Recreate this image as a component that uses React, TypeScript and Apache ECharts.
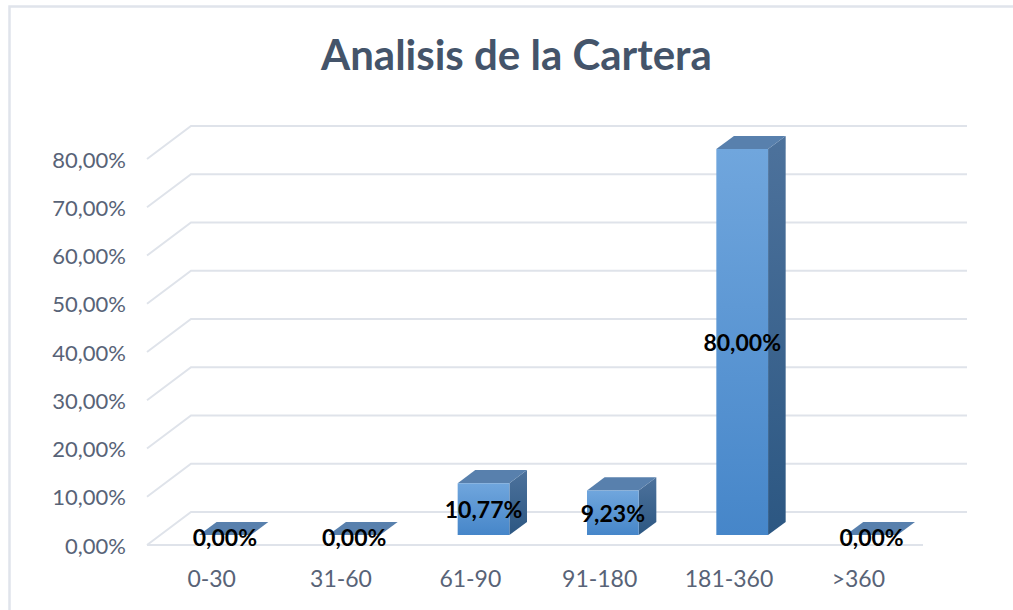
import React, { useEffect, useRef } from 'react';
import * as echarts from 'echarts';

const chartTitle = 'Analisis de la Cartera';
const categories = ['0-30', '31-60', '61-90', '91-180', '181-360', '>360'];
const values = [0, 0, 0.1077, 0.0923, 0.8, 0];
const yTicks = [0, 0.1, 0.2, 0.3, 0.4, 0.5, 0.6, 0.7, 0.8];

const FONT = 'Lato, "Open Sans", sans-serif';
const DEPTH_X = 44;
const DEPTH_Y = 33;
const BAR_FRONT = 0.3;
const BAR_BACK = 0.7;
const GRID_COLOR = '#dfe3ea';
const LABEL_COLOR = '#586377';

const fmt = (v: number) => (v * 100).toFixed(2).replace('.', ',') + '%';

export default function App() {
  const ref = useRef<HTMLDivElement>(null);
  useEffect(() => {
    if (!ref.current) return;
    const chart = echarts.init(ref.current, undefined, { renderer: 'svg' });
    const option: any = {
      animation: false,
      backgroundColor: '#ffffff',
      title: {
        text: chartTitle,
        left: 316,
        top: 28,
        textStyle: { fontFamily: FONT, fontSize: 42, fontWeight: 'bold', color: '#44546a' },
      },
      graphic: [
        {
          type: 'rect',
          shape: { x: 9.5, y: 6.5, width: 1100, height: 700 },
          style: { fill: 'none', stroke: '#e0e4eb', lineWidth: 2.5 },
          silent: true,
        },
      ],
      grid: { left: 147, top: 159, right: 90, bottom: 65, containLabel: false },
      xAxis: {
        type: 'category',
        data: categories,
        axisLine: { show: false },
        axisTick: { show: false },
        splitLine: { show: false },
        axisLabel: { fontFamily: FONT, fontSize: 23, color: LABEL_COLOR, margin: 21 },
      },
      yAxis: {
        type: 'value',
        min: 0,
        max: 0.8,
        interval: 0.1,
        axisLine: { show: false },
        axisTick: { show: false },
        splitLine: { show: false },
        axisLabel: { fontFamily: FONT, fontSize: 22, color: LABEL_COLOR, margin: 21, formatter: fmt },
      },
      series: [
        {
          type: 'custom',
          name: 'grid3d',
          silent: true,
          clip: false,
          z: 1,
          data: yTicks.map((t) => [0, t]),
          encode: { x: 0, y: 1 },
          renderItem: (params: any, api: any) => {
            const cs = params.coordSys;
            const v = api.value(1);
            const y = api.coord([0, v])[1];
            const children: any[] = [
              {
                type: 'polyline',
                shape: {
                  points: [
                    [cs.x, y],
                    [cs.x + DEPTH_X, y - DEPTH_Y],
                    [cs.x + cs.width + DEPTH_X, y - DEPTH_Y],
                  ],
                },
                style: { stroke: GRID_COLOR, lineWidth: 2, fill: 'none' },
              },
            ];
            if (v === 0) {
              children.push({
                type: 'line',
                shape: { x1: cs.x, y1: y, x2: cs.x + cs.width, y2: y },
                style: { stroke: GRID_COLOR, lineWidth: 2 },
              });
            }
            return { type: 'group', children };
          },
        },
        {
          type: 'custom',
          name: 'bars',
          clip: false,
          z: 2,
          data: values.map((v, i) => [i, v]),
          encode: { x: 0, y: 1 },
          renderItem: (params: any, api: any) => {
            const i = api.value(0);
            const v = api.value(1);
            const top = api.coord([i, v]);
            const base = api.coord([i, 0]);
            const w = api.size([1, 0])[0] * 0.4;
            const fx = DEPTH_X * BAR_FRONT;
            const fy = DEPTH_Y * BAR_FRONT;
            const dx = DEPTH_X * (BAR_BACK - BAR_FRONT);
            const dy = DEPTH_Y * (BAR_BACK - BAR_FRONT);
            const xl = top[0] + fx - w / 2;
            const xr = top[0] + fx + w / 2;
            const yt = top[1] - fy;
            const yb = base[1] - fy;
            return {
              type: 'group',
              children: [
                {
                  type: 'polygon',
                  shape: { points: [[xr, yt], [xr + dx, yt - dy], [xr + dx, yb - dy], [xr, yb]] },
                  style: {
                    fill: new echarts.graphic.LinearGradient(0, 0, 0, 1, [
                      { offset: 0, color: '#4d729c' },
                      { offset: 1, color: '#2c5782' },
                    ]),
                  },
                },
                {
                  type: 'polygon',
                  shape: { points: [[xl, yt], [xr, yt], [xr + dx, yt - dy], [xl + dx, yt - dy]] },
                  style: { fill: '#5880ad' },
                },
                {
                  type: 'rect',
                  shape: { x: xl, y: yt, width: w, height: yb - yt },
                  style: {
                    fill: new echarts.graphic.LinearGradient(0, 0, 0, 1, [
                      { offset: 0, color: '#70a6dd' },
                      { offset: 1, color: '#4686c9' },
                    ]),
                  },
                },
                {
                  type: 'text',
                  x: (xl + xr) / 2,
                  y: (yt + yb) / 2 + (v === 0 ? 2 : 0),
                  z2: 10,
                  style: {
                    text: fmt(v),
                    align: 'center',
                    verticalAlign: 'middle',
                    fontFamily: FONT,
                    fontSize: 23,
                    fontWeight: 'bold',
                    fill: '#000000',
                  },
                },
              ],
            };
          },
        },
      ],
    };
    chart.setOption(option);
    return () => chart.dispose();
  }, []);
  return (
    <div
      ref={ref}
      style={{ position: 'fixed', left: 0, top: 0, width: 1013, height: 610, background: '#fff' }}
    />
  );
}
